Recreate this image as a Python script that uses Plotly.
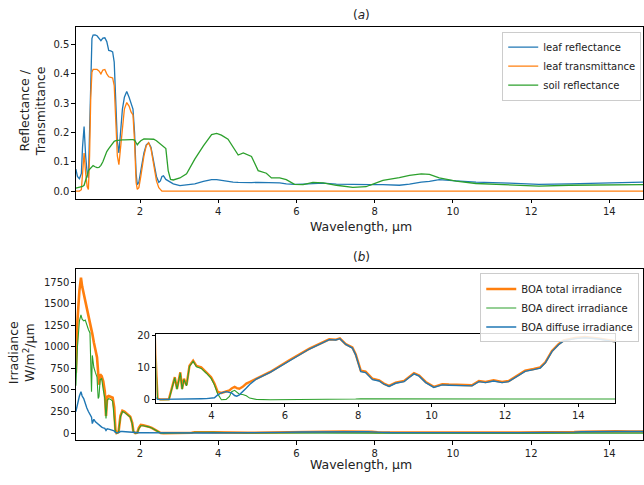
import plotly.graph_objects as go

# ---------------- panel (a) data ----------------
wl_a = [0.36, 0.40, 0.45, 0.50, 0.53, 0.57, 0.61, 0.65, 0.68, 0.71, 0.74, 0.77, 0.80, 0.85, 0.90,
        0.95, 1.00, 1.05, 1.10, 1.15, 1.20, 1.25, 1.30, 1.34, 1.38, 1.42, 1.46, 1.50, 1.55, 1.60,
        1.66, 1.72, 1.77, 1.82, 1.86, 1.90, 1.93, 1.97, 2.02, 2.10, 2.16, 2.22, 2.28, 2.35, 2.42,
        2.48, 2.52, 2.56, 2.60, 2.66, 2.72, 2.78, 2.85, 3.02, 3.19, 3.40, 3.62, 3.83, 3.96, 4.08,
        4.25, 4.38, 4.51, 4.64, 4.85, 5.02, 5.23, 5.36, 5.57, 5.74, 5.95, 6.17, 6.42, 6.68, 7.02,
        7.44, 7.78, 7.87, 8.21, 8.63, 8.89, 9.19, 9.40, 9.65, 10.08, 10.59, 11.44, 12.20, 12.97,
        13.82, 14.86]
leaf_refl = [0.075, 0.05, 0.042, 0.06, 0.15, 0.22, 0.12, 0.06, 0.045, 0.20, 0.42, 0.52, 0.532, 0.533, 0.53,
             0.52, 0.513, 0.522, 0.523, 0.51, 0.48, 0.478, 0.475, 0.44, 0.30, 0.17, 0.13, 0.20, 0.28, 0.32,
             0.34, 0.32, 0.30, 0.28, 0.20, 0.06, 0.022, 0.03, 0.07, 0.13, 0.158, 0.165, 0.15, 0.10, 0.05,
             0.03, 0.035, 0.05, 0.052, 0.04, 0.035, 0.03, 0.025, 0.019, 0.022, 0.025, 0.033, 0.039, 0.039, 0.036,
             0.033, 0.031, 0.030, 0.029, 0.029, 0.030, 0.030, 0.030, 0.028, 0.025, 0.023, 0.024, 0.026, 0.027, 0.024,
             0.022, 0.020, 0.022, 0.022, 0.020, 0.024, 0.031, 0.033, 0.039, 0.035, 0.031, 0.027, 0.023, 0.025,
             0.027, 0.031]
leaf_trans = [0.0, 0.0, 0.0, 0.005, 0.06, 0.13, 0.06, 0.015, 0.006, 0.12, 0.32, 0.405, 0.415, 0.416, 0.415,
              0.41, 0.40, 0.413, 0.415, 0.40, 0.39, 0.388, 0.386, 0.36, 0.22, 0.12, 0.09, 0.15, 0.23, 0.28,
              0.302, 0.29, 0.27, 0.26, 0.17, 0.03, 0.006, 0.012, 0.05, 0.12, 0.155, 0.165, 0.145, 0.09, 0.035,
              0.012, 0.004, 0.0, 0.0, 0.0, 0.0, 0.0, 0.0, 0.0, 0.0, 0.0, 0.0, 0.0, 0.0, 0.0,
              0.0, 0.0, 0.0, 0.0, 0.0, 0.0, 0.0, 0.0, 0.0, 0.0, 0.0, 0.0, 0.0, 0.0, 0.0,
              0.0, 0.0, 0.0, 0.0, 0.0, 0.0, 0.0, 0.0, 0.0, 0.0, 0.0, 0.0, 0.0, 0.0,
              0.0, 0.0]
soil_refl = [0.010, 0.011, 0.012, 0.014, 0.016, 0.02, 0.035, 0.055, 0.07, 0.075, 0.08, 0.085, 0.087, 0.083, 0.08,
             0.081, 0.088, 0.10, 0.12, 0.135, 0.145, 0.155, 0.165, 0.170, 0.172, 0.173, 0.174, 0.174, 0.175, 0.175,
             0.176, 0.176, 0.176, 0.176, 0.174, 0.165, 0.158, 0.165, 0.172, 0.178, 0.178, 0.178, 0.178, 0.177, 0.172,
             0.165, 0.160, 0.155, 0.152, 0.145, 0.07, 0.04, 0.038, 0.045, 0.059, 0.109, 0.154, 0.193, 0.197, 0.191,
             0.177, 0.149, 0.123, 0.13, 0.118, 0.07, 0.061, 0.045, 0.045, 0.039, 0.023, 0.022, 0.030, 0.028, 0.020,
             0.013, 0.015, 0.020, 0.037, 0.046, 0.054, 0.059, 0.057, 0.045, 0.034, 0.026, 0.022, 0.017, 0.020,
             0.020, 0.022]

# ---------------- panel (b) data ----------------
wl_b = [0.36, 0.40, 0.45, 0.49, 0.52, 0.56, 0.60, 0.64, 0.68, 0.72, 0.76, 0.78, 0.82, 0.86, 0.90,
        0.93, 0.95, 0.98, 1.02, 1.06, 1.10, 1.13, 1.16, 1.20, 1.25, 1.30, 1.34, 1.37, 1.40, 1.45,
        1.50, 1.55, 1.60, 1.65, 1.70, 1.75, 1.80, 1.83, 1.88, 1.93, 1.97, 2.02, 2.08, 2.15, 2.22,
        2.30, 2.38, 2.45, 2.50, 2.53, 2.60, 2.70, 2.84, 3.00, 3.06, 3.15, 3.20, 3.25, 3.32, 3.40,
        3.50, 3.59, 3.72, 3.86, 3.99, 4.08, 4.17, 4.27, 4.40, 4.49, 4.55, 4.63, 4.69, 4.76, 4.85,
        4.95, 5.04, 5.22, 5.60, 6.12, 6.67, 7.21, 7.39, 7.50, 7.66, 7.84, 7.93, 8.07, 8.20, 8.39,
        8.57, 8.70, 8.84, 9.02, 9.25, 9.38, 9.52, 9.66, 9.84, 10.06, 10.29, 10.47, 10.83, 11.10, 11.29,
        11.47, 11.69, 11.92, 12.10, 12.33, 12.55, 12.78, 12.96, 13.10, 13.28, 13.46, 13.60, 13.91, 14.18, 14.55,
        14.95, 15.0]
boa_total = [700, 1300, 1650, 1800, 1700, 1620, 1550, 1450, 1380, 1300, 1200, 1150, 1050, 980, 880,
             700, 560, 680, 660, 600, 480, 200, 420, 430, 420, 410, 300, 40, 0, 10,
             200, 260, 250, 230, 215, 190, 120, 20, 0, 5, 60, 95, 90, 85, 75,
             60, 40, 18, 7.5, 0.4, 0.1, 0.1, 0.2, 7.0, 3.4, 8.5, 3.4, 6.5, 4.5, 10.5,
             12.1, 10.5, 10.0, 8.5, 7.0, 5.0, 2.4, 2.1, 2.6, 2.9, 3.5, 4.0, 3.6, 3.4, 4.0,
             5.0, 5.5, 6.5, 8.6, 12.2, 15.8, 18.7, 18.6, 19.0, 17.2, 16.2, 14.1, 9.0, 8.7, 6.5,
             6.0, 5.0, 4.3, 5.3, 5.8, 7.0, 8.2, 7.5, 5.5, 4.0, 4.8, 4.7, 4.5, 4.5, 5.8,
             5.5, 6.0, 5.5, 5.8, 7.5, 9.0, 9.5, 10.0, 11.6, 15.1, 17.2, 18.4, 19.1, 19.4, 19.0,
             18.2, 18.1]
boa_direct = [550, 1000, 1300, 1370, 1320, 1300, 1310, 1250, 1200, 1160, 480, 900, 760, 700, 650,
              400, 420, 620, 630, 500, 400, 170, 380, 400, 390, 370, 200, 20, 0, 5,
              190, 250, 240, 220, 205, 185, 110, 15, 0, 3, 50, 85, 85, 80, 72,
              58, 38, 17, 7.3, 0.2, 0, 0, 0, 6.8, 3.2, 8.3, 3.2, 6.3, 4.3, 10.3,
              11.9, 10.2, 9.7, 8.2, 6.6, 4.6, 1.8, 0, 0.1, 1.0, 2.5, 2.9, 2.3, 1.7, 1.6,
              1.2, 0.5, 0.1, 0, 0, 0, 0.05, 0.05, 0.1, 0.1, 0.2, 0.2, 0.3, 0.3, 0.3,
              0.25, 0.2, 0.2, 0.2, 0.2, 0.2, 0.2, 0.2, 0.2, 0.2, 0.2, 0.2, 0.2, 0.2, 0.2,
              0.2, 0.2, 0.2, 0.2, 0.2, 0.2, 0.2, 0.2, 0.2, 0.2, 0.2, 0.2, 0.2, 0.2, 0.2,
              0.2, 0.2]
boa_diffuse = [250, 350, 430, 480, 430, 400, 330, 290, 250, 210, 185, 110, 160, 130, 115,
               95, 90, 85, 70, 60, 55, 30, 50, 46, 40, 35, 25, 8, 3, 5,
               18, 18, 16, 14, 12, 10, 7, 2, 0.5, 1, 4, 6, 5.5, 5, 4,
               3, 2, 1, 0.3, 0.1, 0.1, 0.1, 0.15, 0.2, 0.2, 0.2, 0.2, 0.2, 0.25, 0.25,
               0.3, 0.3, 0.3, 0.35, 0.4, 0.6, 1.5, 2.1, 2.5, 2.4, 2.1, 1.3, 1.1, 1.5, 2.4,
               3.6, 4.7, 6.4, 8.5, 12.1, 15.7, 18.6, 18.5, 18.9, 17.1, 16.0, 13.9, 8.7, 8.4, 6.2,
               5.8, 4.8, 4.1, 5.1, 5.6, 6.8, 8.0, 7.3, 5.3, 3.8, 4.6, 4.5, 4.3, 4.3, 5.6,
               5.3, 5.8, 5.3, 5.6, 7.3, 8.8, 9.3, 9.8, 11.4, 14.9, 17.0, 18.2, 18.9, 19.2, 18.8,
               18.0, 17.9]

C_BLUE, C_ORANGE, C_GREEN = "#1f77b4", "#ff7f0e", "#2ca02c"
FONT = "DejaVu Sans"
W, H = 644, 485

fig = go.Figure()

# panel (a)
fig.add_trace(go.Scatter(x=wl_a, y=leaf_refl, mode="lines", name="leaf reflectance",
                         line=dict(color=C_BLUE, width=1.3), xaxis="x", yaxis="y", legend="legend"))
fig.add_trace(go.Scatter(x=wl_a, y=leaf_trans, mode="lines", name="leaf transmittance",
                         line=dict(color=C_ORANGE, width=1.3), xaxis="x", yaxis="y", legend="legend"))
fig.add_trace(go.Scatter(x=wl_a, y=soil_refl, mode="lines", name="soil reflectance",
                         line=dict(color=C_GREEN, width=1.3), xaxis="x", yaxis="y", legend="legend"))

# panel (b) main
fig.add_trace(go.Scatter(x=wl_b, y=boa_total, mode="lines", name="BOA total irradiance",
                         line=dict(color=C_ORANGE, width=2.6), xaxis="x2", yaxis="y2", legend="legend2"))
fig.add_trace(go.Scatter(x=wl_b, y=boa_direct, mode="lines", name="BOA direct irradiance",
                         line=dict(color=C_GREEN, width=1.1), xaxis="x2", yaxis="y2", legend="legend2"))
fig.add_trace(go.Scatter(x=wl_b, y=boa_diffuse, mode="lines", name="BOA diffuse irradiance",
                         line=dict(color=C_BLUE, width=1.4), xaxis="x2", yaxis="y2", legend="legend2"))
# inset
fig.add_trace(go.Scatter(x=wl_b, y=boa_total, mode="lines", showlegend=False,
                         line=dict(color=C_ORANGE, width=2.4), xaxis="x3", yaxis="y3"))
fig.add_trace(go.Scatter(x=wl_b, y=boa_direct, mode="lines", showlegend=False,
                         line=dict(color=C_GREEN, width=1.1), xaxis="x3", yaxis="y3"))
fig.add_trace(go.Scatter(x=wl_b, y=boa_diffuse, mode="lines", showlegend=False,
                         line=dict(color=C_BLUE, width=1.4), xaxis="x3", yaxis="y3"))

def px_x(p):
    return p / W

def px_y(p):
    return 1 - p / H

axis_common = dict(showline=True, mirror=True, linecolor="black", linewidth=1, ticks="outside",
                   ticklen=3.5, tickwidth=1, tickcolor="black", showgrid=False, zeroline=False,
                   tickfont=dict(family=FONT, size=10, color="#222"))

legend_common = dict(xanchor="left", yanchor="top", bgcolor="rgba(255,255,255,0.85)",
                     bordercolor="#cccccc", borderwidth=1,
                     font=dict(family=FONT, size=10, color="#222"), tracegroupgap=0)

fig.update_layout(
    width=W, height=H, margin=dict(l=0, r=0, t=0, b=0, pad=0), autosize=False,
    paper_bgcolor="white", plot_bgcolor="white",
    font=dict(family=FONT, size=10, color="#222"),
    xaxis=dict(domain=[px_x(76), 1.0], range=[0.36, 14.86], tickvals=[2, 4, 6, 8, 10, 12, 14],
               anchor="y", **axis_common),
    yaxis=dict(domain=[px_y(197), px_y(22)], range=[-0.026, 0.561],
               tickvals=[0, 0.1, 0.2, 0.3, 0.4, 0.5], ticktext=["0.0", "0.1", "0.2", "0.3", "0.4", "0.5"],
               anchor="x", **axis_common),
    xaxis2=dict(domain=[px_x(76), 1.0], range=[0.36, 14.86], tickvals=[2, 4, 6, 8, 10, 12, 14],
                anchor="y2", **axis_common),
    yaxis2=dict(domain=[px_y(442.3), px_y(268.3)], range=[-80, 1903],
                tickvals=[0, 250, 500, 750, 1000, 1250, 1500, 1750], anchor="x2", **axis_common),
    xaxis3=dict(domain=[px_x(156.7), px_x(616)], range=[2.5, 15], tickvals=[4, 6, 8, 10, 12, 14],
                anchor="y3", **axis_common),
    yaxis3=dict(domain=[px_y(404.3), px_y(335)], range=[-0.9, 20.2], tickvals=[0, 10, 20],
                anchor="x3", **axis_common),
    legend=dict(x=px_x(503), y=px_y(27), **legend_common),
    legend2=dict(x=px_x(481), y=px_y(273), **legend_common),
)

def label(text, x, y, angle=0, size=12.5):
    fig.add_annotation(text=text, x=px_x(x), y=px_y(y), xref="paper", yref="paper",
                       xanchor="center", yanchor="middle", showarrow=False, textangle=angle,
                       font=dict(family=FONT, size=size, color="#222"))

label("(<i>a</i>)", 362, 10, size=12)
label("(<i>b</i>)", 362, 256.5, size=12)
label("Wavelength, µm", 362, 225)
label("Wavelength, µm", 362, 467)
label("Reflectance /<br>Transmittance", 32, 108, angle=-90)
label("Irradiance<br>W/m<sup>2</sup>/µm", 21, 353, angle=-90)

fig.write_html("out.html", config={"displayModeBar": False},
               post_script="document.body.style.margin='0';document.body.style.overflow='hidden';")
